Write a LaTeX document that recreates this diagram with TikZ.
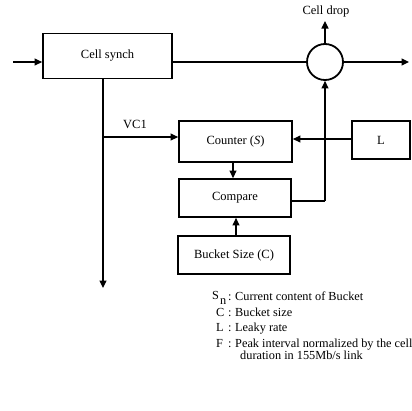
\documentclass[tikz,border=0pt]{standalone}
\usepackage{fontspec}
\setmainfont{Liberation Serif}
\usetikzlibrary{arrows.meta}
\begin{document}
\begin{tikzpicture}[x=1pt,y=-1pt,
  blk/.style={draw,line width=1.8pt,inner sep=0pt,font=\fontsize{12.5}{14}\selectfont},
  conn/.style={line width=1.2pt},
  arr/.style={conn,-{Triangle[length=7.5pt,width=7pt]}},
  lbl/.style={font=\fontsize{12.5}{14}\selectfont,inner sep=0pt},
  leg/.style={font=\fontsize{12.3}{13}\selectfont,inner sep=0pt,anchor=base west}]
\useasboundingbox (0,0) rectangle (412,410);
% boxes
\node[blk,minimum width=129pt,minimum height=45pt] (sync) at (107.5,56) {Cell synch};
\node[blk,minimum width=113pt,minimum height=41pt] (cnt) at (235.5,141.5) {Counter (\textit{S})};
\node[blk,minimum width=112pt,minimum height=38pt] (cmp) at (235,198) {Compare};
\node[blk,minimum width=112pt,minimum height=38pt] (bkt) at (234,255) {Bucket Size (C)};
\node[blk,minimum width=58pt,minimum height=38pt] (L) at (381,140) {L};
\node[draw,circle,line width=1.8pt,minimum size=36pt,inner sep=0pt] (c) at (325,62) {};
% terminals
\coordinate (in) at (13,62);
\coordinate (out) at (409,62);
\coordinate (drop) at (325,21);
\coordinate (down) at (103,288);
\coordinate (j1) at (103,137);
\coordinate (j2) at (325,201);
\node[lbl] (droplbl) at (326,11) {Cell drop};
\node[lbl] (vc) at (135,124) {VC1};
% connectors
\draw[arr] (in) -- (sync.west |- in);
\draw[conn] (sync.east |- in) -- (c.west);
\draw[arr] (c.east) -- (out);
\draw[arr] (c.north) -- (drop);
\draw[arr] (sync.south -| down) -- (down);
\draw[arr] (j1) -- (cnt.west |- j1);
\draw[arr] (L.west |- 0,139) -- (cnt.east |- 0,139);
\draw[arr] (cnt.south -| 233,0) -- (cmp.north -| 233,0);
\draw[arr] (bkt.north -| 236,0) -- (cmp.south -| 236,0);
\draw[conn] (cmp.east |- j2) -- (j2);
\draw[arr] (j2) -- (c.south);
% legend
\node[leg] (ls) at (212,299) {S};
\node[leg] (lsn) at (220,304) {n};
\node[leg] (lsc) at (228,300) {:};
\node[leg] (lst) at (235,300) {Current content of Bucket};
\node[leg] (lc) at (216,316) {C};
\node[leg] (lcc) at (228,316) {:};
\node[leg] (lct) at (235,316) {Bucket size};
\node[leg] (ll) at (216,331) {L};
\node[leg] (llc) at (228,331) {:};
\node[leg] (llt) at (235,331) {Leaky rate};
\node[leg] (lf) at (216,347) {F};
\node[leg] (lfc) at (228,347) {:};
\node[leg] (lft) at (235,347) {Peak interval normalized by the cell};
\node[leg] (lft2) at (240,359) {duration in 155Mb/s link};
\end{tikzpicture}
\end{document}
